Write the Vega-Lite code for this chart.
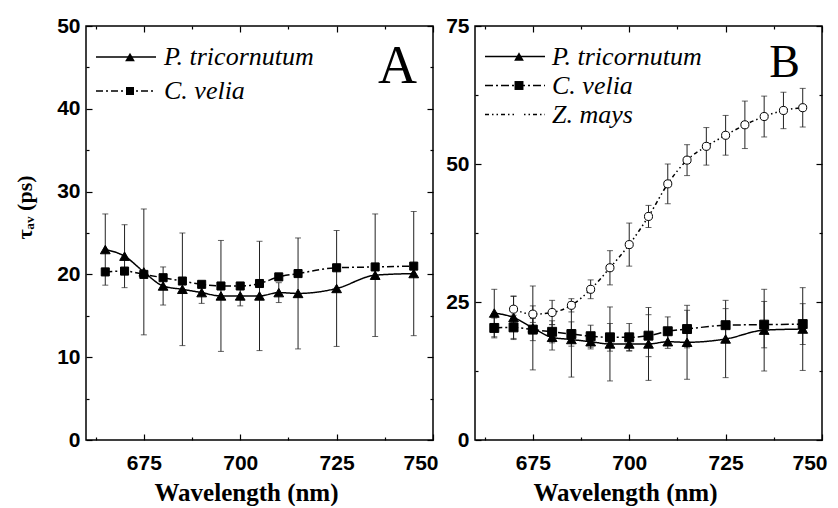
{
  "$schema": "https://vega.github.io/schema/vega-lite/v6.json",
  "background": "white",
  "padding": {"left": 12, "top": 14, "right": 10, "bottom": 0},
  "spacing": 5,
  "config": {
    "view": {"stroke": "black", "strokeWidth": 1.5},
    "axis": {
      "domain": false, "grid": false, "labelFlush": false,
      "tickColor": "black", "tickWidth": 1.2,
      "labelFont": "Liberation Sans", "labelFontWeight": "bold", "labelFontSize": 21, "labelColor": "black",
      "titleFont": "Liberation Serif", "titleFontWeight": "bold", "titleColor": "black"
    }
  },
  "datasets": {
    "A": [
      {"species": "P. tricornutum", "wl": 665, "tau": 23.0, "err": 4.3},
      {"species": "P. tricornutum", "wl": 670, "tau": 22.2, "err": 3.8},
      {"species": "P. tricornutum", "wl": 675, "tau": 20.3, "err": 7.6},
      {"species": "P. tricornutum", "wl": 680, "tau": 18.6, "err": 2.3},
      {"species": "P. tricornutum", "wl": 685, "tau": 18.2, "err": 6.8},
      {"species": "P. tricornutum", "wl": 690, "tau": 17.8, "err": 1.3},
      {"species": "P. tricornutum", "wl": 695, "tau": 17.4, "err": 6.7},
      {"species": "P. tricornutum", "wl": 700, "tau": 17.4, "err": 1.2},
      {"species": "P. tricornutum", "wl": 705, "tau": 17.4, "err": 6.6},
      {"species": "P. tricornutum", "wl": 710, "tau": 17.8, "err": 1.2},
      {"species": "P. tricornutum", "wl": 715, "tau": 17.7, "err": 6.7},
      {"species": "P. tricornutum", "wl": 725, "tau": 18.3, "err": 7.0},
      {"species": "P. tricornutum", "wl": 735, "tau": 19.9, "err": 7.4},
      {"species": "P. tricornutum", "wl": 745, "tau": 20.1, "err": 7.5},
      {"species": "C. velia", "wl": 665, "tau": 20.3},
      {"species": "C. velia", "wl": 670, "tau": 20.4},
      {"species": "C. velia", "wl": 675, "tau": 20.0},
      {"species": "C. velia", "wl": 680, "tau": 19.6},
      {"species": "C. velia", "wl": 685, "tau": 19.2},
      {"species": "C. velia", "wl": 690, "tau": 18.8},
      {"species": "C. velia", "wl": 695, "tau": 18.6},
      {"species": "C. velia", "wl": 700, "tau": 18.6},
      {"species": "C. velia", "wl": 705, "tau": 18.9},
      {"species": "C. velia", "wl": 710, "tau": 19.7},
      {"species": "C. velia", "wl": 715, "tau": 20.1},
      {"species": "C. velia", "wl": 725, "tau": 20.8},
      {"species": "C. velia", "wl": 735, "tau": 20.9},
      {"species": "C. velia", "wl": 745, "tau": 21.0}
    ],
    "B": [
      {"species": "P. tricornutum", "wl": 665, "tau": 23.0, "err": 4.3},
      {"species": "P. tricornutum", "wl": 670, "tau": 22.2, "err": 3.8},
      {"species": "P. tricornutum", "wl": 675, "tau": 20.3, "err": 7.6},
      {"species": "P. tricornutum", "wl": 680, "tau": 18.6, "err": 2.3},
      {"species": "P. tricornutum", "wl": 685, "tau": 18.2, "err": 6.8},
      {"species": "P. tricornutum", "wl": 690, "tau": 17.8, "err": 1.3},
      {"species": "P. tricornutum", "wl": 695, "tau": 17.4, "err": 6.7},
      {"species": "P. tricornutum", "wl": 700, "tau": 17.4, "err": 1.2},
      {"species": "P. tricornutum", "wl": 705, "tau": 17.4, "err": 6.6},
      {"species": "P. tricornutum", "wl": 710, "tau": 17.8, "err": 1.2},
      {"species": "P. tricornutum", "wl": 715, "tau": 17.7, "err": 6.7},
      {"species": "P. tricornutum", "wl": 725, "tau": 18.3, "err": 7.0},
      {"species": "P. tricornutum", "wl": 735, "tau": 19.9, "err": 7.4},
      {"species": "P. tricornutum", "wl": 745, "tau": 20.1, "err": 7.5},
      {"species": "C. velia", "wl": 665, "tau": 20.3, "err": 1.8},
      {"species": "C. velia", "wl": 670, "tau": 20.4, "err": 2.2},
      {"species": "C. velia", "wl": 675, "tau": 20.0, "err": 2.0},
      {"species": "C. velia", "wl": 680, "tau": 19.6, "err": 2.0},
      {"species": "C. velia", "wl": 685, "tau": 19.2, "err": 2.2},
      {"species": "C. velia", "wl": 690, "tau": 18.8, "err": 2.0},
      {"species": "C. velia", "wl": 695, "tau": 18.6, "err": 2.5},
      {"species": "C. velia", "wl": 700, "tau": 18.6, "err": 2.5},
      {"species": "C. velia", "wl": 705, "tau": 18.9, "err": 3.8},
      {"species": "C. velia", "wl": 710, "tau": 19.7, "err": 2.6},
      {"species": "C. velia", "wl": 715, "tau": 20.1, "err": 3.4},
      {"species": "C. velia", "wl": 725, "tau": 20.8, "err": 3.0},
      {"species": "C. velia", "wl": 735, "tau": 20.9, "err": 4.2},
      {"species": "C. velia", "wl": 745, "tau": 21.0, "err": 3.7},
      {"species": "Z. mays", "wl": 670, "tau": 23.7, "err": 2.4},
      {"species": "Z. mays", "wl": 675, "tau": 22.8, "err": 1.5},
      {"species": "Z. mays", "wl": 680, "tau": 23.1, "err": 2.2},
      {"species": "Z. mays", "wl": 685, "tau": 24.4, "err": 1.2},
      {"species": "Z. mays", "wl": 690, "tau": 27.3, "err": 1.7},
      {"species": "Z. mays", "wl": 695, "tau": 31.2, "err": 3.1},
      {"species": "Z. mays", "wl": 700, "tau": 35.4, "err": 3.9},
      {"species": "Z. mays", "wl": 705, "tau": 40.5, "err": 2.0},
      {"species": "Z. mays", "wl": 710, "tau": 46.4, "err": 3.6},
      {"species": "Z. mays", "wl": 715, "tau": 50.7, "err": 2.8},
      {"species": "Z. mays", "wl": 720, "tau": 53.2, "err": 3.4},
      {"species": "Z. mays", "wl": 725, "tau": 55.2, "err": 3.6},
      {"species": "Z. mays", "wl": 730, "tau": 57.1, "err": 4.3},
      {"species": "Z. mays", "wl": 735, "tau": 58.6, "err": 3.7},
      {"species": "Z. mays", "wl": 740, "tau": 59.7, "err": 3.3},
      {"species": "Z. mays", "wl": 745, "tau": 60.2, "err": 3.5}
    ]
  },
  "resolve": {
    "scale": {"x": "independent", "y": "independent", "shape": "independent", "fill": "independent", "size": "independent", "strokeDash": "independent"},
    "axis": {"x": "independent", "y": "independent"},
    "legend": {"shape": "independent", "fill": "independent", "size": "independent", "strokeDash": "independent"}
  },
  "hconcat": [
    {
      "width": 347, "height": 414,
      "data": {"name": "A"},
      "resolve": {"axis": {"x": "independent", "y": "independent"}},
      "layer": [
        {
          "transform": [{"filter": "isValid(datum.err)"}],
          "mark": {"type": "errorbar", "ticks": {"size": 6, "color": "#222", "strokeWidth": 1}, "rule": {"color": "#222", "strokeWidth": 1}},
          "encoding": {
            "x": {"field": "wl", "type": "quantitative", "scale": {"domain": [660, 750], "nice": false}, "axis": null},
            "y": {"field": "tau", "type": "quantitative", "scale": {"domain": [0, 50], "nice": false}, "axis": null},
            "yError": {"field": "err"}
          }
        },
        {
          "mark": {"type": "line", "interpolate": "monotone", "color": "black", "strokeWidth": 1.5},
          "encoding": {
            "x": {"field": "wl", "type": "quantitative", "axis": {"orient": "bottom", "values": [662.5, 675, 687.5, 700, 712.5, 725, 737.5, 750], "labelExpr": "datum.value % 25 == 0 ? datum.label : ''", "labelFlush": true, "labelFlushOffset": 5, "tickSize": {"condition": {"test": "datum.value % 25 == 0", "value": -6}, "value": -3}, "labelPadding": 18, "title": "Wavelength (nm)", "titleFontSize": 25, "titlePadding": 7, "titleX": 160}},
            "y": {"field": "tau", "type": "quantitative", "axis": {"orient": "left", "values": [0, 5, 10, 15, 20, 25, 30, 35, 40, 45, 50], "labelExpr": "datum.value % 10 == 0 ? datum.label : ''", "tickSize": {"condition": {"test": "datum.value % 10 == 0", "value": -6}, "value": -3}, "labelPadding": 12, "title": "τₐᵥ (ps)", "titleFontSize": 22, "titlePadding": 20, "titleY": 181}},
            "strokeDash": {"field": "species", "type": "nominal", "sort": ["P. tricornutum", "C. velia"], "scale": {"range": [[1, 0], [7, 3, 2, 3]]},
              "legend": {"orient": "none", "legendX": 9, "legendY": 14, "title": null, "symbolType": "stroke", "symbolSize": 3600, "symbolStrokeWidth": 1.5, "symbolStrokeColor": "black", "clipHeight": 34, "rowPadding": 0, "padding": 0, "labelFont": "Liberation Serif", "labelFontStyle": "italic", "labelFontSize": 26, "labelColor": "black", "labelOffset": 7, "labelLimit": 300}}
          }
        },
        {
          "mark": {"type": "point", "filled": true, "opacity": 1, "stroke": "black", "strokeWidth": 1},
          "encoding": {
            "x": {"field": "wl", "type": "quantitative", "axis": {"orient": "top", "values": [662.5, 675, 687.5, 700, 712.5, 725, 737.5, 750], "labels": false, "title": null, "tickSize": {"condition": {"test": "datum.value % 25 == 0", "value": -6}, "value": -3}}},
            "y": {"field": "tau", "type": "quantitative", "axis": {"orient": "right", "values": [0, 5, 10, 15, 20, 25, 30, 35, 40, 45, 50], "labels": false, "title": null, "tickSize": {"condition": {"test": "datum.value % 10 == 0", "value": -6}, "value": -3}}},
            "shape": {"field": "species", "type": "nominal", "scale": {"domain": ["P. tricornutum", "C. velia"], "range": ["triangle-up", "square"]},
              "legend": {"orient": "none", "legendX": 31, "legendY": 14, "title": null, "clipHeight": 34, "rowPadding": 0, "padding": 0, "labelFontSize": 26, "labelExpr": "''", "labelOpacity": 0, "symbolStrokeColor": "black", "symbolStrokeWidth": 1}},
            "fill": {"field": "species", "type": "nominal", "scale": {"domain": ["P. tricornutum", "C. velia"], "range": ["black", "black"]},
              "legend": {"orient": "none", "legendX": 31, "legendY": 14, "title": null, "clipHeight": 34, "rowPadding": 0, "padding": 0, "labelFontSize": 26, "labelExpr": "''", "labelOpacity": 0, "symbolStrokeColor": "black", "symbolStrokeWidth": 1}},
            "size": {"field": "species", "type": "nominal", "scale": {"domain": ["P. tricornutum", "C. velia"], "range": [95, 65]},
              "legend": {"orient": "none", "legendX": 31, "legendY": 14, "title": null, "clipHeight": 34, "rowPadding": 0, "padding": 0, "labelFontSize": 26, "labelExpr": "''", "labelOpacity": 0, "symbolStrokeColor": "black", "symbolStrokeWidth": 1}}
          }
        },
        {
          "data": {"values": [{"letter": "A"}]},
          "mark": {"type": "text", "align": "right", "baseline": "alphabetic", "dx": -16, "dy": 57, "font": "Liberation Serif", "fontSize": 54, "color": "black"},
          "encoding": {
            "x": {"datum": 750, "type": "quantitative", "axis": null},
            "y": {"datum": 50, "type": "quantitative", "axis": null},
            "text": {"field": "letter"}
          }
        }
      ]
    },
    {
      "width": 347, "height": 414,
      "data": {"name": "B"},
      "resolve": {"axis": {"x": "independent", "y": "independent"}},
      "layer": [
        {
          "mark": {"type": "errorbar", "ticks": {"size": 6, "color": "#222", "strokeWidth": 1}, "rule": {"color": "#222", "strokeWidth": 1}},
          "encoding": {
            "x": {"field": "wl", "type": "quantitative", "scale": {"domain": [660, 750], "nice": false}, "axis": null},
            "y": {"field": "tau", "type": "quantitative", "scale": {"domain": [0, 75], "nice": false}, "axis": null},
            "yError": {"field": "err"}
          }
        },
        {
          "mark": {"type": "line", "interpolate": "monotone", "color": "black", "strokeWidth": 1.5},
          "encoding": {
            "x": {"field": "wl", "type": "quantitative", "axis": {"orient": "bottom", "values": [662.5, 675, 687.5, 700, 712.5, 725, 737.5, 750], "labelExpr": "datum.value % 25 == 0 ? datum.label : ''", "labelFlush": true, "labelFlushOffset": 5, "tickSize": {"condition": {"test": "datum.value % 25 == 0", "value": -6}, "value": -3}, "labelPadding": 18, "title": "Wavelength (nm)", "titleFontSize": 25, "titlePadding": 7, "titleX": 150}},
            "y": {"field": "tau", "type": "quantitative", "axis": {"orient": "left", "values": [0, 12.5, 25, 37.5, 50, 62.5, 75], "labelExpr": "datum.value % 25 == 0 ? datum.label : ''", "tickSize": {"condition": {"test": "datum.value % 25 == 0", "value": -6}, "value": -3}, "labelPadding": 12, "title": null}},
            "strokeDash": {"field": "species", "type": "nominal", "sort": ["P. tricornutum", "C. velia", "Z. mays"], "scale": {"range": [[1, 0], [8, 3, 2, 3], [4, 3, 1.5, 3, 1.5, 3]]},
              "legend": {"orient": "none", "legendX": 9, "legendY": 16, "title": null, "symbolType": "stroke", "symbolSize": 3600, "symbolStrokeWidth": 1.5, "symbolStrokeColor": "black", "clipHeight": 29, "rowPadding": 0, "padding": 0, "labelFont": "Liberation Serif", "labelFontStyle": "italic", "labelFontSize": 26, "labelColor": "black", "labelOffset": 6, "labelLimit": 300}}
          }
        },
        {
          "mark": {"type": "point", "filled": true, "opacity": 1, "stroke": "black", "strokeWidth": 1},
          "encoding": {
            "x": {"field": "wl", "type": "quantitative", "axis": {"orient": "top", "values": [662.5, 675, 687.5, 700, 712.5, 725, 737.5, 750], "labels": false, "title": null, "tickSize": {"condition": {"test": "datum.value % 25 == 0", "value": -6}, "value": -3}}},
            "y": {"field": "tau", "type": "quantitative", "axis": {"orient": "right", "values": [0, 12.5, 25, 37.5, 50, 62.5, 75], "labels": false, "title": null, "tickSize": {"condition": {"test": "datum.value % 25 == 0", "value": -6}, "value": -3}}},
            "shape": {"field": "species", "type": "nominal", "scale": {"domain": ["P. tricornutum", "C. velia", "Z. mays"], "range": ["triangle-up", "square", "circle"]},
              "legend": {"orient": "none", "legendX": 31, "legendY": 16, "title": null, "clipHeight": 29, "rowPadding": 0, "padding": 0, "labelFontSize": 26, "labelExpr": "''", "labelOpacity": 0, "symbolStrokeColor": "black", "symbolStrokeWidth": 1}},
            "fill": {"field": "species", "type": "nominal", "scale": {"domain": ["P. tricornutum", "C. velia", "Z. mays"], "range": ["black", "black", "white"]},
              "legend": {"orient": "none", "legendX": 31, "legendY": 16, "title": null, "clipHeight": 29, "rowPadding": 0, "padding": 0, "labelFontSize": 26, "labelExpr": "''", "labelOpacity": 0, "symbolStrokeColor": "black", "symbolStrokeWidth": 1}},
            "size": {"field": "species", "type": "nominal", "scale": {"domain": ["P. tricornutum", "C. velia", "Z. mays"], "range": [95, 65, 110]},
              "legend": {"orient": "none", "legendX": 31, "legendY": 16, "title": null, "clipHeight": 29, "rowPadding": 0, "padding": 0, "labelFontSize": 26, "labelExpr": "''", "labelOpacity": 0, "symbolStrokeColor": "black", "symbolStrokeWidth": 1}}
          }
        },
        {
          "data": {"values": [{"letter": "B"}]},
          "mark": {"type": "text", "align": "right", "baseline": "alphabetic", "dx": -22, "dy": 51, "font": "Liberation Serif", "fontSize": 46, "color": "black"},
          "encoding": {
            "x": {"datum": 750, "type": "quantitative", "axis": null},
            "y": {"datum": 75, "type": "quantitative", "axis": null},
            "text": {"field": "letter"}
          }
        }
      ]
    }
  ]
}
